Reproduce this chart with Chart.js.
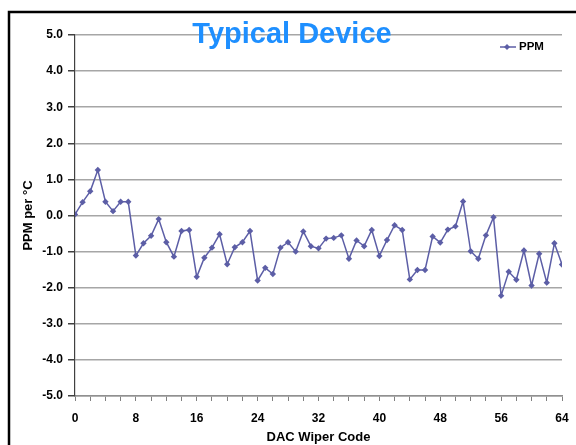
<!DOCTYPE html>
<html>
<head>
<meta charset="utf-8">
<script src="https://cdn.jsdelivr.net/npm/chart.js@4"></script>
<style>
  body { margin: 0; background: #fff; }
  #box { width: 576px; height: 445px; }
</style>
</head>
<body>
<div id="box"><canvas id="chart" width="576" height="445"></canvas></div>
<script>
// DAC wiper code vs tempco
const codes = [];
for (let c = 0; c <= 64; c++) codes.push(c);
const ppm = [0.03, 0.37, 0.67, 1.26, 0.38, 0.12, 0.38, 0.38,
  -1.11, -0.77, -0.56, -0.10, -0.74, -1.14, -0.43, -0.40,
  -1.70, -1.17, -0.89, -0.52, -1.35, -0.88, -0.74, -0.43,
  -1.80, -1.45, -1.62, -0.89, -0.74, -1.00, -0.44, -0.85,
  -0.91, -0.64, -0.62, -0.55, -1.20, -0.69, -0.85, -0.40,
  -1.12, -0.68, -0.27, -0.40, -1.77, -1.51, -1.51, -0.58,
  -0.75, -0.39, -0.30, 0.39, -0.99, -1.20, -0.55, -0.05,
  -2.22, -1.56, -1.78, -0.97, -1.94, -1.06, -1.86, -0.77, -1.36];
const yTicks = [-5, -4, -3, -2, -1, 0, 1, 2, 3, 4, 5];

const lineColor = '#5c5ea6';
const font = '"Liberation Sans", Arial, sans-serif';

// frame, title and legend drawn by hand (like the excel export)
const decor = {
  id: 'decor',
  beforeDraw(chart) {
    const c = chart.ctx;
    c.save();
    c.fillStyle = '#fff';
    c.fillRect(0, 0, chart.width, chart.height);
    c.strokeStyle = '#000';
    c.lineWidth = 2.5;
    c.strokeRect(9, 12, 700, 600);
    c.restore();
  },
  afterDraw(chart) {
    const c = chart.ctx;
    c.save();
    c.fillStyle = '#1e8fff';
    c.font = 'bold 29px ' + font;
    c.textAlign = 'center';
    c.textBaseline = 'alphabetic';
    c.fillText('Typical Device', 292, 43);

    // legend
    c.strokeStyle = lineColor;
    c.lineWidth = 1.5;
    c.beginPath();
    c.moveTo(500, 47);
    c.lineTo(516, 47);
    c.stroke();
    c.fillStyle = lineColor;
    c.beginPath();
    c.moveTo(507, 44);
    c.lineTo(510, 47);
    c.lineTo(507, 50);
    c.lineTo(504, 47);
    c.closePath();
    c.fill();
    c.fillStyle = '#000';
    c.font = 'bold 11.5px ' + font;
    c.textAlign = 'left';
    c.textBaseline = 'middle';
    c.fillText('PPM', 519, 47);
    c.restore();
  }
};

new Chart(document.getElementById('chart'), {
  type: 'line',
  data: {
    datasets: [{
      label: 'PPM',
      data: codes.map((c, i) => ({ x: c, y: ppm[i] })),
      borderColor: lineColor,
      backgroundColor: lineColor,
      borderWidth: 1.5,
      pointStyle: 'rectRot',
      pointRadius: 3.2,
      pointBorderWidth: 0,
      tension: 0
    }]
  },
  options: {
    responsive: false,
    animation: false,
    layout: { padding: { top: 35, right: 14, left: 0, bottom: 0 } },
    plugins: {
      legend: { display: false },
      title: { display: false },
      tooltip: { enabled: false }
    },
    scales: {
      x: {
        type: 'linear',
        min: 0,
        max: 64,
        afterBuildTicks(scale) {
          scale.ticks = [];
          for (let v = 0; v <= 64; v += 2) scale.ticks.push({ value: v });
        },
        afterFit(scale) {
          scale.height = 49;
          scale.paddingLeft = 0;
          scale.paddingRight = 0;
        },
        ticks: {
          autoSkip: false,
          maxRotation: 0,
          padding: 10,
          color: '#000',
          font: { family: font, size: 12, weight: 'bold' },
          callback: v => (v % 8 === 0 ? v : '')
        },
        grid: {
          drawOnChartArea: false,
          tickLength: 5,
          tickColor: '#808080'
        },
        border: { color: '#909090', width: 1.5 },
        title: {
          display: true,
          text: 'DAC Wiper Code',
          color: '#000',
          font: { family: font, size: 13, weight: 'bold' },
          padding: { top: 0, bottom: 0 }
        }
      },
      y: {
        min: -5,
        max: 5,
        afterBuildTicks(scale) {
          scale.ticks = yTicks.map(v => ({ value: v }));
        },
        afterFit(scale) { scale.width = 75; },
        ticks: {
          padding: 5,
          color: '#000',
          font: { family: font, size: 12, weight: 'bold' },
          callback: v => v.toFixed(1)
        },
        grid: {
          color: '#a6a6a6',
          lineWidth: 1.5,
          tickLength: 7,
          tickColor: '#404040'
        },
        border: { color: '#404040', width: 1.2 },
        title: {
          display: true,
          text: 'PPM per °C',
          color: '#000',
          font: { family: font, size: 13, weight: 'bold' },
          padding: { top: 21, bottom: 0 }
        }
      }
    }
  },
  plugins: [decor]
});
</script>
</body>
</html>
